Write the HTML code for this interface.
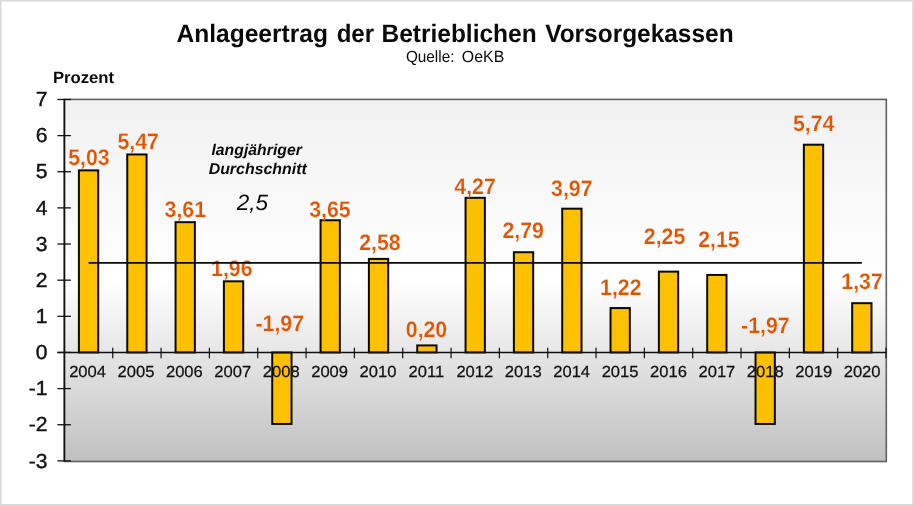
<!DOCTYPE html>
<html lang="de"><head><meta charset="utf-8"><title>Anlageertrag der Betrieblichen Vorsorgekassen</title>
<style>html,body{margin:0;padding:0;background:#fff}svg{display:block;will-change:transform}text{font-family:"Liberation Sans",Arial,sans-serif;text-rendering:geometricPrecision}</style></head><body>
<svg width="914" height="506" viewBox="0 0 914 506">
<defs><linearGradient id="pg" x1="0" y1="0" x2="0" y2="1"><stop offset="0" stop-color="#f1f1f1"/><stop offset="0.5" stop-color="#ffffff"/><stop offset="1" stop-color="#c0c0c0"/></linearGradient></defs>
<rect x="0" y="0" width="914" height="506" fill="#ffffff"/>
<path d="M0 0H914V506H0Z M1.6 1.6V504H912.2V1.6Z" fill="#d9d9d9" fill-rule="evenodd"/>
<rect x="64.4" y="99.4" width="821.9" height="362.1" fill="url(#pg)" stroke="#606060" stroke-width="1.6"/>
<text transform="translate(176.52 42.2) scale(0.9742 1)" font-size="25.2" font-weight="bold" fill="#0a0a0a">Anlageertrag</text>
<text transform="translate(336.64 42.2) scale(0.9563 1)" font-size="25.2" font-weight="bold" fill="#0a0a0a">der</text>
<text transform="translate(381.5 42.2) scale(0.9722 1)" font-size="25.2" font-weight="bold" fill="#0a0a0a">Betrieblichen</text>
<text transform="translate(545.16 42.2) scale(0.9706 1)" font-size="25.2" font-weight="bold" fill="#0a0a0a">Vorsorgekassen</text>
<text transform="translate(405.89 62.2) scale(0.9411 1)" font-size="16.3" fill="#0a0a0a">Quelle:</text>
<text transform="translate(461.87 62.2) scale(0.9749 1)" font-size="16.3" fill="#0a0a0a">OeKB</text>
<text transform="translate(52.88 82.7) scale(1.0186 1)" font-size="16.4" font-weight="bold" fill="#0a0a0a">Prozent</text>
<text transform="translate(211.45 155) scale(1.0128 1)" font-size="15.6" font-weight="bold" font-style="italic" fill="#0a0a0a">langjähriger</text>
<text transform="translate(208.64 173.5) scale(1.0207 1)" font-size="15.6" font-weight="bold" font-style="italic" fill="#0a0a0a">Durchschnitt</text>
<text transform="translate(236.8 209.6) scale(1.0146 1)" font-size="22.2" font-style="italic" fill="#0a0a0a">2,5</text>
<rect x="78.91" y="170.37" width="19.3" height="182.08" fill="#ffc000" stroke="#0a0a0a" stroke-width="2"/>
<rect x="127.25" y="154.46" width="19.3" height="197.99" fill="#ffc000" stroke="#0a0a0a" stroke-width="2"/>
<rect x="175.57" y="222.18" width="19.3" height="130.27" fill="#ffc000" stroke="#0a0a0a" stroke-width="2"/>
<rect x="223.91" y="281.32" width="19.3" height="71.13" fill="#ffc000" stroke="#0a0a0a" stroke-width="2"/>
<rect x="272.24" y="352.45" width="19.3" height="71.5" fill="#ffc000" stroke="#0a0a0a" stroke-width="2"/>
<rect x="320.57" y="220.24" width="19.3" height="132.21" fill="#ffc000" stroke="#0a0a0a" stroke-width="2"/>
<rect x="368.89" y="258.91" width="19.3" height="93.54" fill="#ffc000" stroke="#0a0a0a" stroke-width="2"/>
<rect x="417.23" y="345.42" width="19.3" height="7.03" fill="#ffc000" stroke="#0a0a0a" stroke-width="2"/>
<rect x="465.56" y="197.83" width="19.3" height="154.62" fill="#ffc000" stroke="#0a0a0a" stroke-width="2"/>
<rect x="513.88" y="252.22" width="19.3" height="100.23" fill="#ffc000" stroke="#0a0a0a" stroke-width="2"/>
<rect x="562.22" y="208.67" width="19.3" height="143.78" fill="#ffc000" stroke="#0a0a0a" stroke-width="2"/>
<rect x="610.54" y="308.06" width="19.3" height="44.39" fill="#ffc000" stroke="#0a0a0a" stroke-width="2"/>
<rect x="658.88" y="271.63" width="19.3" height="80.81" fill="#ffc000" stroke="#0a0a0a" stroke-width="2"/>
<rect x="707.2" y="274.95" width="19.3" height="77.5" fill="#ffc000" stroke="#0a0a0a" stroke-width="2"/>
<rect x="755.53" y="352.45" width="19.3" height="71.5" fill="#ffc000" stroke="#0a0a0a" stroke-width="2"/>
<rect x="803.87" y="144.71" width="19.3" height="207.74" fill="#ffc000" stroke="#0a0a0a" stroke-width="2"/>
<rect x="852.19" y="303.19" width="19.3" height="49.26" fill="#ffc000" stroke="#0a0a0a" stroke-width="2"/>
<line x1="64.4" y1="98.97" x2="64.4" y2="461.37" stroke="#111" stroke-width="1.6"/>
<line x1="57.4" y1="352.45" x2="886.01" y2="352.45" stroke="#111" stroke-width="1.5"/>
<line x1="57.4" y1="460.87" x2="70.9" y2="460.87" stroke="#111" stroke-width="1.3"/>
<text transform="translate(47.4 467.57) scale(1.04 1)" text-anchor="end" font-size="20.3" fill="#111" stroke="#111" stroke-width="0.4">-3</text>
<line x1="57.4" y1="424.73" x2="70.9" y2="424.73" stroke="#111" stroke-width="1.3"/>
<text transform="translate(47.4 431.43) scale(1.04 1)" text-anchor="end" font-size="20.3" fill="#111" stroke="#111" stroke-width="0.4">-2</text>
<line x1="57.4" y1="388.59" x2="70.9" y2="388.59" stroke="#111" stroke-width="1.3"/>
<text transform="translate(47.4 395.29) scale(1.04 1)" text-anchor="end" font-size="20.3" fill="#111" stroke="#111" stroke-width="0.4">-1</text>
<line x1="57.4" y1="352.45" x2="70.9" y2="352.45" stroke="#111" stroke-width="1.3"/>
<text transform="translate(47.4 359.15) scale(1.04 1)" text-anchor="end" font-size="20.3" fill="#111" stroke="#111" stroke-width="0.4">0</text>
<line x1="57.4" y1="316.31" x2="70.9" y2="316.31" stroke="#111" stroke-width="1.3"/>
<text transform="translate(47.4 323.01) scale(1.04 1)" text-anchor="end" font-size="20.3" fill="#111" stroke="#111" stroke-width="0.4">1</text>
<line x1="57.4" y1="280.17" x2="70.9" y2="280.17" stroke="#111" stroke-width="1.3"/>
<text transform="translate(47.4 286.87) scale(1.04 1)" text-anchor="end" font-size="20.3" fill="#111" stroke="#111" stroke-width="0.4">2</text>
<line x1="57.4" y1="244.03" x2="70.9" y2="244.03" stroke="#111" stroke-width="1.3"/>
<text transform="translate(47.4 250.73) scale(1.04 1)" text-anchor="end" font-size="20.3" fill="#111" stroke="#111" stroke-width="0.4">3</text>
<line x1="57.4" y1="207.89" x2="70.9" y2="207.89" stroke="#111" stroke-width="1.3"/>
<text transform="translate(47.4 214.59) scale(1.04 1)" text-anchor="end" font-size="20.3" fill="#111" stroke="#111" stroke-width="0.4">4</text>
<line x1="57.4" y1="171.75" x2="70.9" y2="171.75" stroke="#111" stroke-width="1.3"/>
<text transform="translate(47.4 178.45) scale(1.04 1)" text-anchor="end" font-size="20.3" fill="#111" stroke="#111" stroke-width="0.4">5</text>
<line x1="57.4" y1="135.61" x2="70.9" y2="135.61" stroke="#111" stroke-width="1.3"/>
<text transform="translate(47.4 142.31) scale(1.04 1)" text-anchor="end" font-size="20.3" fill="#111" stroke="#111" stroke-width="0.4">6</text>
<line x1="57.4" y1="99.47" x2="70.9" y2="99.47" stroke="#111" stroke-width="1.3"/>
<text transform="translate(47.4 106.17) scale(1.04 1)" text-anchor="end" font-size="20.3" fill="#111" stroke="#111" stroke-width="0.4">7</text>
<line x1="112.73" y1="347.75" x2="112.73" y2="358.15" stroke="#111" stroke-width="1.2"/>
<line x1="161.06" y1="347.75" x2="161.06" y2="358.15" stroke="#111" stroke-width="1.2"/>
<line x1="209.39" y1="347.75" x2="209.39" y2="358.15" stroke="#111" stroke-width="1.2"/>
<line x1="257.72" y1="347.75" x2="257.72" y2="358.15" stroke="#111" stroke-width="1.2"/>
<line x1="306.05" y1="347.75" x2="306.05" y2="358.15" stroke="#111" stroke-width="1.2"/>
<line x1="354.38" y1="347.75" x2="354.38" y2="358.15" stroke="#111" stroke-width="1.2"/>
<line x1="402.71" y1="347.75" x2="402.71" y2="358.15" stroke="#111" stroke-width="1.2"/>
<line x1="451.04" y1="347.75" x2="451.04" y2="358.15" stroke="#111" stroke-width="1.2"/>
<line x1="499.37" y1="347.75" x2="499.37" y2="358.15" stroke="#111" stroke-width="1.2"/>
<line x1="547.7" y1="347.75" x2="547.7" y2="358.15" stroke="#111" stroke-width="1.2"/>
<line x1="596.03" y1="347.75" x2="596.03" y2="358.15" stroke="#111" stroke-width="1.2"/>
<line x1="644.36" y1="347.75" x2="644.36" y2="358.15" stroke="#111" stroke-width="1.2"/>
<line x1="692.69" y1="347.75" x2="692.69" y2="358.15" stroke="#111" stroke-width="1.2"/>
<line x1="741.02" y1="347.75" x2="741.02" y2="358.15" stroke="#111" stroke-width="1.2"/>
<line x1="789.35" y1="347.75" x2="789.35" y2="358.15" stroke="#111" stroke-width="1.2"/>
<line x1="837.68" y1="347.75" x2="837.68" y2="358.15" stroke="#111" stroke-width="1.2"/>
<line x1="886.01" y1="347.75" x2="886.01" y2="358.15" stroke="#111" stroke-width="1.2"/>
<text transform="translate(87.55 377) scale(1.035 1)" text-anchor="middle" font-size="16" fill="#111" stroke="#111" stroke-width="0.25">2004</text>
<text transform="translate(135.96 377) scale(1.035 1)" text-anchor="middle" font-size="16" fill="#111" stroke="#111" stroke-width="0.25">2005</text>
<text transform="translate(184.37 377) scale(1.035 1)" text-anchor="middle" font-size="16" fill="#111" stroke="#111" stroke-width="0.25">2006</text>
<text transform="translate(232.78 377) scale(1.035 1)" text-anchor="middle" font-size="16" fill="#111" stroke="#111" stroke-width="0.25">2007</text>
<text transform="translate(281.19 377) scale(1.035 1)" text-anchor="middle" font-size="16" fill="#111" stroke="#111" stroke-width="0.25">2008</text>
<text transform="translate(329.6 377) scale(1.035 1)" text-anchor="middle" font-size="16" fill="#111" stroke="#111" stroke-width="0.25">2009</text>
<text transform="translate(378.01 377) scale(1.035 1)" text-anchor="middle" font-size="16" fill="#111" stroke="#111" stroke-width="0.25">2010</text>
<text transform="translate(426.42 377) scale(1.035 1)" text-anchor="middle" font-size="16" fill="#111" stroke="#111" stroke-width="0.25">2011</text>
<text transform="translate(474.83 377) scale(1.035 1)" text-anchor="middle" font-size="16" fill="#111" stroke="#111" stroke-width="0.25">2012</text>
<text transform="translate(523.24 377) scale(1.035 1)" text-anchor="middle" font-size="16" fill="#111" stroke="#111" stroke-width="0.25">2013</text>
<text transform="translate(571.65 377) scale(1.035 1)" text-anchor="middle" font-size="16" fill="#111" stroke="#111" stroke-width="0.25">2014</text>
<text transform="translate(620.06 377) scale(1.035 1)" text-anchor="middle" font-size="16" fill="#111" stroke="#111" stroke-width="0.25">2015</text>
<text transform="translate(668.47 377) scale(1.035 1)" text-anchor="middle" font-size="16" fill="#111" stroke="#111" stroke-width="0.25">2016</text>
<text transform="translate(716.88 377) scale(1.035 1)" text-anchor="middle" font-size="16" fill="#111" stroke="#111" stroke-width="0.25">2017</text>
<text transform="translate(765.29 377) scale(1.035 1)" text-anchor="middle" font-size="16" fill="#111" stroke="#111" stroke-width="0.25">2018</text>
<text transform="translate(813.7 377) scale(1.035 1)" text-anchor="middle" font-size="16" fill="#111" stroke="#111" stroke-width="0.25">2019</text>
<text transform="translate(862.11 377) scale(1.035 1)" text-anchor="middle" font-size="16" fill="#111" stroke="#111" stroke-width="0.25">2020</text>
<text transform="translate(68.24 165.3) scale(0.9500 1)" font-size="22.4" font-weight="bold" fill="#df5500" stroke="#f8f8f8" stroke-width="0.18" paint-order="fill stroke">5,03</text>
<text transform="translate(117.44 149.2) scale(0.9500 1)" font-size="22.4" font-weight="bold" fill="#df5500" stroke="#f8f8f8" stroke-width="0.18" paint-order="fill stroke">5,47</text>
<text transform="translate(164.58 217.4) scale(0.9500 1)" font-size="22.4" font-weight="bold" fill="#df5500" stroke="#f8f8f8" stroke-width="0.18" paint-order="fill stroke">3,61</text>
<text transform="translate(211.12 276.1) scale(0.9500 1)" font-size="22.4" font-weight="bold" fill="#df5500" stroke="#f8f8f8" stroke-width="0.18" paint-order="fill stroke">1,96</text>
<text transform="translate(255.5 330.9) scale(0.9500 1)" font-size="22.4" font-weight="bold" fill="#df5500" stroke="#f8f8f8" stroke-width="0.18" paint-order="fill stroke">-1,97</text>
<text transform="translate(309.27 217.1) scale(0.9500 1)" font-size="22.4" font-weight="bold" fill="#df5500" stroke="#f8f8f8" stroke-width="0.18" paint-order="fill stroke">3,65</text>
<text transform="translate(359.24 250.2) scale(0.9500 1)" font-size="22.4" font-weight="bold" fill="#df5500" stroke="#f8f8f8" stroke-width="0.18" paint-order="fill stroke">2,58</text>
<text transform="translate(405.8 336.5) scale(0.9500 1)" font-size="22.4" font-weight="bold" fill="#df5500" stroke="#f8f8f8" stroke-width="0.18" paint-order="fill stroke">0,20</text>
<text transform="translate(454.31 194.2) scale(0.9500 1)" font-size="22.4" font-weight="bold" fill="#df5500" stroke="#f8f8f8" stroke-width="0.18" paint-order="fill stroke">4,27</text>
<text transform="translate(502.44 238.3) scale(0.9500 1)" font-size="22.4" font-weight="bold" fill="#df5500" stroke="#f8f8f8" stroke-width="0.18" paint-order="fill stroke">2,79</text>
<text transform="translate(551.07 196) scale(0.9500 1)" font-size="22.4" font-weight="bold" fill="#df5500" stroke="#f8f8f8" stroke-width="0.18" paint-order="fill stroke">3,97</text>
<text transform="translate(600.12 295.2) scale(0.9500 1)" font-size="22.4" font-weight="bold" fill="#df5500" stroke="#f8f8f8" stroke-width="0.18" paint-order="fill stroke">1,22</text>
<text transform="translate(643.84 243.9) scale(0.9500 1)" font-size="22.4" font-weight="bold" fill="#df5500" stroke="#f8f8f8" stroke-width="0.18" paint-order="fill stroke">2,25</text>
<text transform="translate(698.24 246.7) scale(0.9500 1)" font-size="22.4" font-weight="bold" fill="#df5500" stroke="#f8f8f8" stroke-width="0.18" paint-order="fill stroke">2,15</text>
<text transform="translate(741.1 332.5) scale(0.9500 1)" font-size="22.4" font-weight="bold" fill="#df5500" stroke="#f8f8f8" stroke-width="0.18" paint-order="fill stroke">-1,97</text>
<text transform="translate(793.04 131.1) scale(0.9500 1)" font-size="22.4" font-weight="bold" fill="#df5500" stroke="#f8f8f8" stroke-width="0.18" paint-order="fill stroke">5,74</text>
<text transform="translate(841.33 289) scale(0.9500 1)" font-size="22.4" font-weight="bold" fill="#df5500" stroke="#f8f8f8" stroke-width="0.18" paint-order="fill stroke">1,37</text>
<line x1="88.56" y1="262.85" x2="861.84" y2="262.85" stroke="#0a0a0a" stroke-width="1.8"/>
</svg></body></html>
